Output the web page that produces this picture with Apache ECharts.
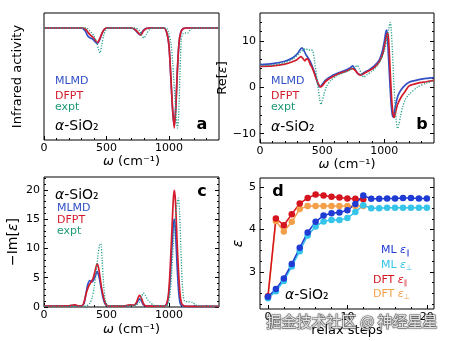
<!DOCTYPE html>
<html>
<head>
<meta charset="utf-8">
<script src="https://cdn.jsdelivr.net/npm/echarts@6/dist/echarts.min.js"></script>
<style>
  html, body { margin: 0; padding: 0; background: #fff; }
  #chart { width: 451px; height: 341px; }
</style>
</head>
<body>
<div id="chart"></div>
<script>
var FONT = 'DejaVu Sans';

// ---- panel a: infrared activity (0 = baseline, -1 = deepest dip)
var aMLMD = [[0,0],[300,0],[330,-0.03],[350,-0.08],[370,-0.1],[390,-0.11],[410,-0.14],[426,-0.155],[445,-0.12],[465,-0.05],[485,-0.01],[505,0],[700,0],[730,-0.02],[750,-0.05],[770,-0.07],[790,-0.03],[815,-0.005],[840,0],[960,0],[985,-0.06],[1000,-0.18],[1013,-0.45],[1028,-0.8],[1042,-0.98],[1054,-0.8],[1066,-0.45],[1080,-0.15],[1095,-0.04],[1115,-0.005],[1140,0],[1400,0]];
var aDFPT = [[0,0],[310,0],[330,-0.01],[350,-0.04],[370,-0.07],[390,-0.09],[410,-0.12],[427,-0.146],[445,-0.11],[465,-0.05],[485,-0.01],[505,0],[700,0],[730,-0.015],[755,-0.05],[775,-0.07],[795,-0.03],[820,-0.005],[840,0],[960,0],[985,-0.06],[1000,-0.18],[1013,-0.45],[1028,-0.8],[1042,-1.0],[1054,-0.8],[1066,-0.45],[1080,-0.15],[1095,-0.04],[1115,-0.005],[1140,0],[1400,0]];
var aExpt = [[0,0],[340,0],[360,-0.02],[380,-0.05],[400,-0.08],[420,-0.14],[435,-0.21],[448,-0.25],[462,-0.17],[478,-0.07],[495,-0.02],[515,0],[730,0],[760,-0.02],[780,-0.07],[800,-0.1],[820,-0.06],[840,-0.02],[865,0],[975,0],[995,-0.04],[1015,-0.15],[1030,-0.35],[1045,-0.65],[1058,-0.9],[1068,-1.0],[1078,-0.85],[1088,-0.45],[1098,-0.12],[1110,-0.06],[1130,-0.05],[1150,-0.05],[1170,-0.02],[1190,0],[1400,0]];

// ---- panel b: Re[eps]
var bMLMD = [[0,4.9],[100,5.1],[200,5.6],[260,6.3],[300,7.2],[325,8.2],[338,8.5],[352,8.0],[368,7.1],[390,6.2],[410,5.2],[430,3.8],[450,2.2],[468,0.6],[482,0.1],[500,0.6],[530,1.6],[580,2.5],[640,3.2],[700,3.8],[730,4.3],[745,4.6],[760,4.1],[785,3.0],[810,2.7],[840,3.2],[880,3.8],[920,4.6],[960,5.9],[985,7.8],[1000,9.8],[1012,11.8],[1018,12.3],[1025,11.2],[1035,6],[1045,1],[1055,-3.5],[1065,-6],[1072,-6.4],[1082,-5.2],[1095,-3.3],[1110,-1.8],[1134,-0.6],[1170,0.5],[1200,1.1],[1270,1.6],[1337,1.9],[1400,2.1]];
var bDFPT = [[0,4.5],[100,4.6],[200,5.0],[260,5.5],[300,6.0],[330,6.6],[345,6.2],[360,5.7],[375,6.1],[390,5.9],[405,4.9],[420,4.2],[435,3.2],[450,2.0],[468,0.8],[485,0.1],[500,0.3],[530,1.3],[580,2.2],[640,3.0],[700,3.5],[740,4.0],[760,3.8],[790,2.9],[810,2.6],[840,3.0],[880,3.6],[920,4.3],[960,5.5],[990,7.4],[1010,10.0],[1026,11.7],[1034,10.5],[1043,6],[1052,1],[1062,-3.5],[1072,-6],[1080,-6.5],[1090,-5.5],[1105,-3.8],[1134,-2.2],[1165,-1.0],[1200,0.3],[1270,0.9],[1337,1.2],[1400,1.5]];
var bExpt = [[0,4.6],[100,4.8],[200,5.3],[260,6.0],[300,6.9],[330,7.7],[350,8.1],[370,8.3],[390,8.0],[410,8.1],[425,7.8],[440,5.5],[455,2.5],[470,-0.5],[480,-2.5],[490,-3.7],[500,-3.0],[515,-1.5],[535,0.2],[570,1.5],[620,2.5],[680,3.2],[730,3.8],[765,4.4],[783,4.7],[800,3.9],[820,2.7],[836,2.2],[860,2.7],[900,3.4],[940,4.5],[970,5.8],[1000,7.8],[1020,10.2],[1035,12.5],[1048,14.0],[1056,12.5],[1065,8],[1075,2],[1085,-3],[1095,-6.8],[1107,-8.9],[1118,-8.0],[1130,-6.3],[1148,-4.2],[1170,-2.6],[1200,-1.5],[1270,0.1],[1337,0.9],[1400,1.4]];

// ---- panel c: -Im[eps]
var cMLMD = [[0,0.15],[200,0.2],[240,0.3],[270,0.2],[300,0.2],[320,0.6],[335,2.2],[350,3.8],[366,4.5],[385,4.3],[405,5.0],[425,6.1],[440,5.2],[455,3.5],[470,1.8],[485,0.7],[500,0.25],[550,0.15],[650,0.2],[690,0.3],[720,0.3],[740,0.6],[755,1.2],[765,1.4],[780,1.0],[795,0.4],[815,0.15],[960,0.15],[985,0.6],[1005,3.5],[1020,9],[1035,14],[1043,15.0],[1052,13],[1065,7],[1078,2.5],[1090,0.6],[1105,0.2],[1150,0.1],[1400,0.1]];
var cDFPT = [[0,0.15],[200,0.2],[230,0.3],[250,0.35],[270,0.2],[305,0.2],[320,0.8],[340,2.5],[360,3.7],[375,4.2],[393,4.9],[410,6.3],[426,7.4],[440,6.3],[458,3.6],[475,1.8],[490,0.7],[505,0.25],[550,0.15],[650,0.2],[690,0.35],[720,0.3],[740,0.8],[755,1.7],[765,2.0],[780,1.5],[795,0.6],[815,0.2],[965,0.15],[980,0.5],[995,2.0],[1008,6],[1022,12.5],[1035,18.5],[1043,19.9],[1052,18],[1065,11],[1075,6.5],[1088,2.2],[1101,0.6],[1120,0.2],[1160,0.1],[1400,0.1]];
var cExpt = [[0,0.1],[300,0.1],[340,0.2],[365,0.6],[385,1.6],[400,3.2],[415,5.5],[430,8.5],[445,10.6],[455,10.8],[465,8],[475,4.5],[488,1.5],[500,0.5],[515,0.2],[700,0.2],[740,0.4],[765,0.9],[780,1.7],[795,2.4],[810,2.0],[830,1.2],[850,0.8],[870,0.4],[900,0.2],[980,0.2],[995,0.6],[1010,2.5],[1022,6],[1035,11],[1048,14.5],[1060,17],[1075,18.6],[1085,16],[1095,10],[1105,4.5],[1115,1.8],[1125,1.0],[1150,0.9],[1190,0.8],[1210,0.4],[1240,0.2],[1400,0.1]];

// ---- panel d: eps vs relax steps
var steps = [0,1,2,3,4,5,6,7,8,9,10,11,12,13,14,15,16,17,18,19,20];
var mlPar  = [2.42,2.6,2.85,3.19,3.57,3.93,4.18,4.33,4.38,4.4,4.45,4.6,4.8,4.72,4.72,4.73,4.73,4.74,4.74,4.73,4.73];
var mlPerp = [2.38,2.55,2.79,3.13,3.49,3.86,4.07,4.19,4.22,4.22,4.27,4.41,4.57,4.5,4.5,4.51,4.51,4.51,4.51,4.51,4.51];
var dftPar  = [2.43,4.26,4.1,4.36,4.61,4.74,4.82,4.8,4.77,4.75,4.73,4.72,4.71];
var dftPerp = [2.4,4.2,3.95,4.18,4.48,4.55,4.55,4.55,4.55,4.55,4.55,4.55,4.55];

// ---- ticks
var freqMajor = [0, 500, 1000];
var freqMinor = [100, 200, 300, 400, 600, 700, 800, 900, 1100, 1200, 1300];
var reMajor = [-10, 0, 10];
var reMinor = [-8, -6, -4, -2, 2, 4, 6, 8, 12, 14];
var imMajor = [0, 5, 10, 15, 20];
var imMinor = [1, 2, 3, 4, 6, 7, 8, 9, 11, 12, 13, 14, 16, 17, 18, 19, 21, 22];
var stepMajor = [0, 10, 20];
var stepMinor = [2, 4, 6, 8, 12, 14, 16, 18];
var epsMajor = [3, 4, 5];
var epsMinor = [2.25, 2.5, 2.75, 3.25, 3.5, 3.75, 4.25, 4.5, 4.75];

var BLUE = '#3150c4', RED = '#d31c2c', TEAL = '#26a08a', TEALTXT = '#1f9a76';
var D_BLUE = '#1f3bd4', D_CYAN = '#35c4ea', D_RED = '#d5141f', D_ORANGE = '#f4a04a';

function fmt(v) { return String(v).replace('-', '\u2212'); }

function axis(dim, grid, pos, min, max, ticks, len, labels, extra) {
  var a = {
    type: 'value', gridIndex: grid, position: pos, min: min, max: max,
    axisLine: { show: false, onZero: false },
    splitLine: { show: false },
    axisTick: { show: ticks.length > 0, inside: true, length: len, customValues: ticks,
      lineStyle: { color: '#000', width: 1 } },
    axisLabel: labels ? { show: true, customValues: ticks, color: '#000', fontFamily: FONT,
      fontSize: 11, margin: dim === 'x' ? 3 : 4, formatter: fmt } : { show: false }
  };
  return Object.assign(a, extra || {});
}

function nameOpt(name, gap, size) {
  return {
    name: name, nameLocation: 'middle', nameGap: gap,
    nameTextStyle: { color: '#000', fontFamily: FONT, fontSize: size || 13,
      rich: { i: { fontStyle: 'italic', fontFamily: FONT, fontSize: size || 13, color: '#000' } } }
  };
}
var omega = '{i|ω} (cm⁻¹)';

var xAxes = [
  axis('x', 0, 'bottom', 0, 1400, freqMajor, 4, true, nameOpt(omega, 15)),
  axis('x', 0, 'bottom', 0, 1400, freqMinor, 2, false),
  axis('x', 1, 'bottom', 0, 1400, freqMajor, 4, true, nameOpt(omega, 13)),
  axis('x', 1, 'bottom', 0, 1400, freqMinor, 2, false),
  axis('x', 2, 'bottom', 0, 1400, freqMajor, 4, true, nameOpt(omega, 16)),
  axis('x', 2, 'bottom', 0, 1400, freqMinor, 2, false),
  axis('x', 3, 'bottom', -1, 20.9, stepMajor, 4, true, nameOpt('relax steps', 14)),
  axis('x', 3, 'bottom', -1, 20.9, stepMinor, 2, false)
];
var yAxes = [
  axis('y', 0, 'left', -1.12, 0.15, [], 0, false, nameOpt('Infrared activity', 20)),
  axis('y', 1, 'left', -12, 16, reMajor, 4, true, nameOpt('Re[{i|ε}]', 22)),
  axis('y', 1, 'left', -12, 16, reMinor, 2, false),
  axis('y', 1, 'right', -12, 16, reMajor, 4, false),
  axis('y', 1, 'right', -12, 16, reMinor, 2, false),
  axis('y', 2, 'left', 0, 22.2, imMajor, 4, true, nameOpt('\u2212Im[{i|ε}]', 24, 14)),
  axis('y', 2, 'left', 0, 22.2, imMinor, 2, false),
  axis('y', 2, 'right', 0, 22.2, imMajor, 4, false),
  axis('y', 2, 'right', 0, 22.2, imMinor, 2, false),
  axis('y', 3, 'left', 2.13, 5.21, epsMajor, 4, true, nameOpt('{i|ε}', 12, 14)),
  axis('y', 3, 'left', 2.13, 5.21, epsMinor, 2, false),
  axis('y', 3, 'right', 2.13, 5.21, epsMajor, 4, false),
  axis('y', 3, 'right', 2.13, 5.21, epsMinor, 2, false)
];

function curve(data, color, xi, yi, dotted) {
  return {
    type: 'line', data: data, xAxisIndex: xi, yAxisIndex: yi,
    showSymbol: false, smooth: 0.25, silent: true, animation: false,
    lineStyle: dotted ? { color: color, width: 1.3, type: [1.2, 1.5] } : { color: color, width: 1.7 }
  };
}
function relax(vals, color) {
  return {
    type: 'line', xAxisIndex: 6, yAxisIndex: 9, animation: false, silent: true,
    data: vals.map(function (v, i) { return [steps[i], v]; }),
    symbol: 'circle', symbolSize: 6.5,
    itemStyle: { color: color }, lineStyle: { color: color, width: 1.5 }
  };
}

var series = [
  curve(aMLMD, BLUE, 0, 0), curve(aDFPT, RED, 0, 0), curve(aExpt, TEAL, 0, 0, true),
  curve(bMLMD, BLUE, 2, 1), curve(bDFPT, RED, 2, 1), curve(bExpt, TEAL, 2, 1, true),
  curve(cMLMD, BLUE, 4, 5), curve(cDFPT, RED, 4, 5), curve(cExpt, TEAL, 4, 5, true),
  relax(dftPerp, D_ORANGE), relax(dftPar, D_RED), relax(mlPerp, D_CYAN), relax(mlPar, D_BLUE)
];

function txt(x, y, text, color, size, extra) {
  var st = { text: text, fill: color, fontFamily: FONT, fontSize: size,
    align: 'left', verticalAlign: 'middle' };
  Object.assign(st, extra || {});
  return { type: 'text', x: x, y: y, z: 100, silent: true, style: st };
}
var sio2 = '{i|α}-SiO₂';
var sioRich = { i: { fontStyle: 'italic', fontFamily: FONT, fontSize: 14 } };
function epsLabel(x, y, head, sub, color) {
  return txt(x, y, head + ' {e|ε}{s|' + sub + '}', color, 11, {
    rich: {
      e: { fontStyle: 'italic', fontFamily: FONT, fontSize: 11 },
      s: { fontFamily: FONT, fontSize: 7, padding: [7, 0, 0, 0] }
    }
  });
}

var graphics = [
  // a
  txt(55, 81, 'MLMD', BLUE, 11), txt(55, 96, 'DFPT', RED, 11), txt(55, 107.5, 'expt', TEALTXT, 11),
  txt(55, 126, sio2, '#000', 14, { rich: sioRich }),
  txt(202, 125, 'a', '#000', 16, { fontWeight: 'bold', align: 'center' }),
  // b
  txt(271, 81, 'MLMD', BLUE, 11), txt(271, 96, 'DFPT', RED, 11), txt(271, 107.5, 'expt', TEALTXT, 11),
  txt(271, 127, sio2, '#000', 14, { rich: sioRich }),
  txt(422, 125, 'b', '#000', 16, { fontWeight: 'bold', align: 'center' }),
  // c
  txt(55, 195, sio2, '#000', 14, { rich: sioRich }),
  txt(57, 208, 'MLMD', BLUE, 11), txt(57, 220, 'DFPT', RED, 11), txt(57, 231.5, 'expt', TEALTXT, 11),
  txt(202, 192, 'c', '#000', 16, { fontWeight: 'bold', align: 'center' }),
  // d
  txt(278, 192, 'd', '#000', 16, { fontWeight: 'bold', align: 'center' }),
  txt(285, 295, sio2, '#000', 14, { rich: sioRich }),
  epsLabel(381, 250, 'ML', '∥', D_BLUE),
  epsLabel(381, 265, 'ML', '⊥', D_CYAN),
  epsLabel(373, 280, 'DFT', '∥', D_RED),
  epsLabel(373, 294, 'DFT', '⊥', D_ORANGE),
  // site watermark
  txt(352, 321, '掘金技术社区 @ 神经星星', 'rgba(235,235,235,0.92)', 15, {
    align: 'center', fontFamily: 'Noto Sans CJK SC',
    stroke: 'rgba(95,95,95,0.75)', lineWidth: 1.2,
    textShadowBlur: 2, textShadowColor: 'rgba(0,0,0,0.35)'
  })
];

var grid = function (l, t, w, h) {
  return { left: l, top: t, width: w, height: h, show: true, borderColor: '#000', borderWidth: 1, containLabel: false };
};

var chart = echarts.init(document.getElementById('chart'), null, { renderer: 'canvas' });
chart.setOption({
  animation: false,
  backgroundColor: '#fff',
  textStyle: { fontFamily: FONT },
  grid: [grid(44, 13, 175, 127), grid(260, 13, 174, 130), grid(44, 177, 175, 130), grid(260, 178, 174, 131)],
  xAxis: xAxes,
  yAxis: yAxes,
  series: series,
  graphic: graphics
});
</script>
</body>
</html>
